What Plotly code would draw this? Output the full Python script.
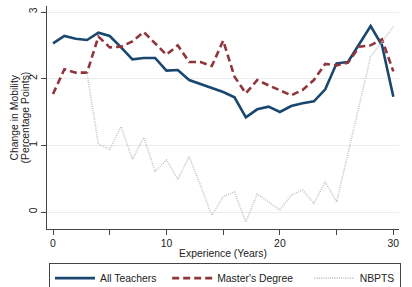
import plotly.graph_objects as go

years = list(range(0, 31))
all_teachers = [2.53, 2.64, 2.60, 2.58, 2.69, 2.64, 2.47, 2.29, 2.31, 2.31,
                2.12, 2.13, 1.98, 1.92, 1.86, 1.80, 1.72, 1.42, 1.54, 1.58,
                1.50, 1.59, 1.63, 1.66, 1.84, 2.23, 2.25, 2.51, 2.79, 2.50, 1.73]
masters = [1.77, 2.14, 2.09, 2.09, 2.63, 2.47, 2.48, 2.56, 2.70, 2.53,
           2.36, 2.50, 2.25, 2.25, 2.19, 2.57, 2.03, 1.78, 1.98, 1.90,
           1.83, 1.75, 1.83, 1.98, 2.22, 2.20, 2.24, 2.48, 2.50, 2.59, 2.11]
nbpts_years = list(range(3, 31))
nbpts = [2.08, 1.02, 0.94, 1.28, 0.79, 1.12, 0.61, 0.78, 0.49, 0.83,
         0.40, -0.05, 0.23, 0.30, -0.15, 0.27, 0.15, 0.03, 0.25, 0.33,
         0.13, 0.45, 0.15, 0.88, 1.61, 2.33, 2.55, 2.78]
series_names = ["All Teachers", "Master's Degree", "NBPTS"]
x_title = "Experience (Years)"
y_title_lines = ["Change in Mobility", "(Percentage Points)"]

FONT = "Liberation Sans, Arial, sans-serif"
NB = "\u00a0"

fig = go.Figure()
fig.add_trace(go.Scatter(x=years, y=all_teachers, mode="lines", name=series_names[0] + NB * 2,
                         line=dict(color="#1a476f", width=2.6)))
fig.add_trace(go.Scatter(x=years, y=masters, mode="lines", name=series_names[1] + NB * 4,
                         line=dict(color="#90353b", width=2.6, dash="7px,4px")))
fig.add_trace(go.Scatter(x=nbpts_years, y=nbpts, mode="lines", name=series_names[2],
                         line=dict(color="#c4c4c4", width=1.6, dash="1px,1.2px")))

fig.update_layout(
    width=412, height=287,
    margin=dict(l=47, r=13, t=6, b=58, autoexpand=False),
    paper_bgcolor="white", plot_bgcolor="white",
    font=dict(family=FONT, size=10.4, color="#222"),
    showlegend=True,
    legend=dict(orientation="h", x=(49 - 47) / 352, xanchor="left", y=-0.151, yanchor="top",
                bordercolor="#444", borderwidth=1, font=dict(size=10.4),
                bgcolor="white", itemwidth=40),
    xaxis=dict(range=[-0.53, 30.5], tickvals=[0, 10, 20, 30], ticks="outside",
               ticklen=5, tickcolor="#444", showline=True, linecolor="#444",
               linewidth=1, showgrid=False, zeroline=False, automargin=False,
               minor=dict(tickvals=[5, 15, 25], ticks="outside", ticklen=5, tickcolor="#444")),
    yaxis=dict(range=[-0.255, 3.09], tickvals=[0, 1, 2, 3], ticks="outside",
               ticklen=5, tickcolor="#444", showline=True, linecolor="#444",
               linewidth=1, showgrid=True, gridcolor="#e6eef0", gridwidth=1,
               zeroline=False, tickangle=-90, automargin=False),
    annotations=[
        dict(text=x_title, xref="paper", yref="paper", x=(223 - 47) / 352, y=(229 - 253) / 223,
             xanchor="center", yanchor="middle", showarrow=False, font=dict(size=10.4)),
        dict(text=y_title_lines[0], xref="paper", yref="paper", x=(14 - 47) / 352, y=0.5,
             xanchor="center", yanchor="middle", textangle=-90, showarrow=False,
             font=dict(size=10.4)),
        dict(text=y_title_lines[1], xref="paper", yref="paper", x=(25 - 47) / 352, y=0.5,
             xanchor="center", yanchor="middle", textangle=-90, showarrow=False,
             font=dict(size=10.4)),
    ],
)

fig.write_html("out.html")
